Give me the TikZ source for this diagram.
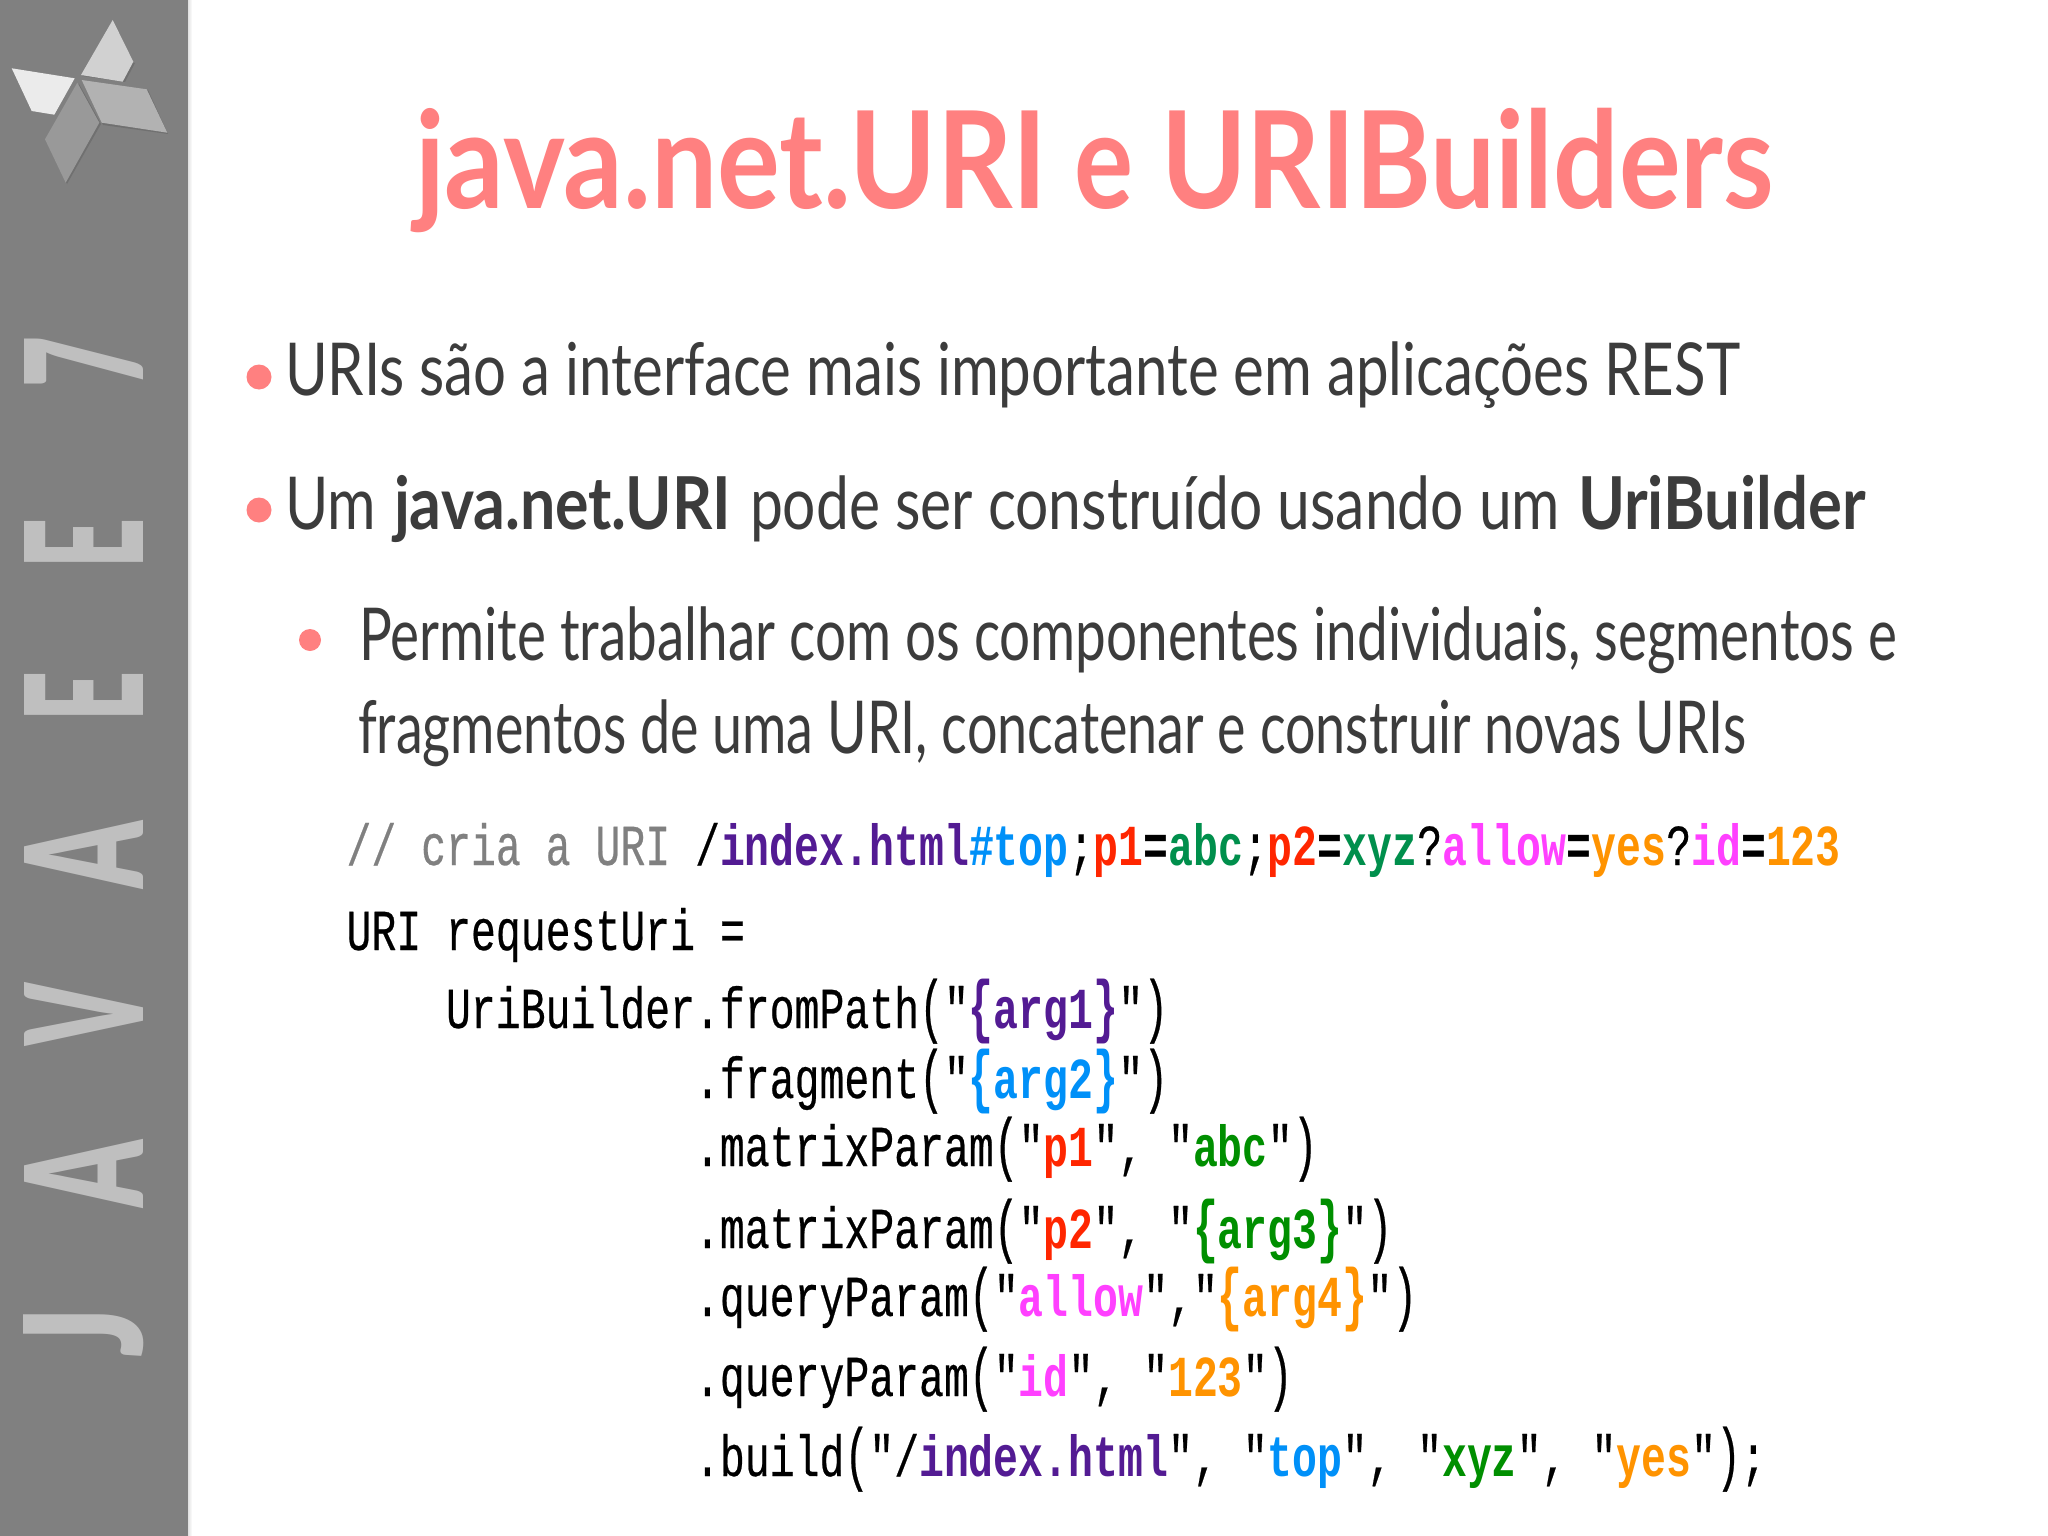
\documentclass[tikz,border=0pt]{standalone}
\usepackage{fontspec}
\usepackage{graphicx}
\setmainfont{Lato}
\newfontfamily\codef[FakeStretch=0.7155,FakeBold=0.4,BoldFeatures={FakeBold=0}]{Liberation Mono}
\newfontfamily\sidef{Lato Black}
\definecolor{sidegrey}{HTML}{808080}
\definecolor{sideletter}{HTML}{BFBFBF}
\definecolor{titlec}{HTML}{FF8080}
\definecolor{bodyc}{HTML}{3C3C3C}
\definecolor{bulletc}{HTML}{FF8080}
\definecolor{cpurple}{HTML}{531B93}
\definecolor{cblue}{HTML}{0090F8}
\definecolor{cred}{HTML}{FF2600}
\definecolor{cgreen}{HTML}{008F4C}
\definecolor{cgreenb}{HTML}{008F00}
\definecolor{cmag}{HTML}{FF40FF}
\definecolor{corange}{HTML}{FF9300}
\definecolor{ccomment}{HTML}{808080}
\newcommand\fitx[2]{\resizebox{#1pt}{\height}{#2}}
\newcommand\tall[1]{\raisebox{-0.02em}{\scalebox{1}[1.2]{#1}}}
\newcommand\lpr{\tall{(}}
\newcommand\rpr{\tall{)}}
\newcommand\lbr{\tall{\{}}
\newcommand\rbr{\tall{\}}}
\newcommand\kp[1]{{\bfseries\color{cpurple}#1}}
\newcommand\kb[1]{{\bfseries\color{cblue}#1}}
\newcommand\kr[1]{{\bfseries\color{cred}#1}}
\newcommand\kg[1]{{\bfseries\color{cgreen}#1}}
\newcommand\kG[1]{{\bfseries\color{cgreenb}#1}}
\newcommand\km[1]{{\bfseries\color{cmag}#1}}
\newcommand\ko[1]{{\bfseries\color{corange}#1}}
\newcommand\kk[1]{{\bfseries #1}}
\tikzset{
  sideletterstyle/.style={inner sep=0,outer sep=0,rotate=90,text=sideletter,font=\fontsize{165}{165}\selectfont\sidef},
  titlestyle/.style={anchor=base west,inner sep=0,outer sep=0,text=titlec,font=\fontsize{135}{135}\selectfont\bfseries},
  bodystyle/.style={anchor=base west,inner sep=0,outer sep=0,text=bodyc,font=\fontsize{73}{73}\selectfont},
  codestyle/.style={anchor=base west,inner sep=0,outer sep=0,text=black,font=\fontsize{58}{58}\selectfont\codef\frenchspacing},
  bulletstyle/.style={circle,fill=bulletc,draw=none,minimum size=25pt,inner sep=0},
  sbulletstyle/.style={circle,fill=bulletc,draw=none,minimum size=22pt,inner sep=0},
}
\begin{document}
\begin{tikzpicture}[x=1pt,y=-1pt]
\useasboundingbox (0,0) rectangle (2048,1536);
\fill[white] (0,0) rectangle (2048,1536);
\shade[left color=black!12,right color=white] (188,0) rectangle (192,1536);
\fill[sidegrey] (0,0) rectangle (188,1536);
% logo
\fill[black!56] (114,63) -- (135,63) -- (125,82) -- (82,76) -- cycle;
\fill[black!56] (83,81) -- (148,90) -- (168,134) -- (103,125) -- cycle;
\fill[black!56] (79,84) -- (101,124) -- (67,184) -- (46,140) -- cycle;
\fill[black!18] (112.7,20) -- (133.3,61.7) -- (122.7,81.7) -- (81,75) -- cycle;
\fill[black!8] (11.7,68.3) -- (74.7,78.3) -- (54.3,114.7) -- (31.7,111) -- cycle;
\fill[black!30] (81.7,80) -- (146.7,89.3) -- (167.3,132.7) -- (101.7,122.7) -- cycle;
\fill[black!40] (77.3,82.7) -- (99.3,122.7) -- (65.7,182.7) -- (45,139.3) -- cycle;
% side title
\node[sideletterstyle] (l7) at (83.5,361.5) {\resizebox{51pt}{119pt}{7}};
\node[sideletterstyle] (le2) at (83.5,543) {\resizebox{50pt}{119pt}{E}};
\node[sideletterstyle] (le1) at (83.5,696) {\resizebox{50pt}{119pt}{E}};
\node[sideletterstyle] (la2) at (83.5,854.5) {\resizebox{67pt}{119pt}{A}};
\node[sideletterstyle] (lv) at (83.5,1014) {\resizebox{62pt}{119pt}{V}};
\node[sideletterstyle] (la1) at (83.5,1173.5) {\resizebox{67pt}{119pt}{A}};
\node[sideletterstyle] (lj) at (84,1332) {\resizebox{50pt}{119pt}{J}};
% title
\node[titlestyle] (title) at (415,208) {\fitx{632}{java.net.URI}\hspace{27pt}\fitx{59}{e}\hspace{28pt}\fitx{613}{URIBuilders}};
% body
\node[bulletstyle] (b1) at (259,377) {};
\node[bodystyle] (t1) at (285,395.5) {\fitx{1455}{URIs são a interface mais importante em aplicações REST}};
\node[bulletstyle] (b2) at (259,510) {};
\node[bodystyle] (t2) at (285,529.5) {\fitx{91}{Um}\hspace{18pt}\fitx{337}{\bfseries java.net.URI}\hspace{19pt}\fitx{810}{pode ser construído usando um}\hspace{18pt}\fitx{288}{\bfseries UriBuilder}};
\node[sbulletstyle] (b3) at (310,640) {};
\node[bodystyle] (t3) at (359,660) {\fitx{1538}{Permite trabalhar com os componentes individuais, segmentos e}};
\node[bodystyle] (t4) at (358,753) {\fitx{1388}{fragmentos de uma URI, concatenar e construir novas URIs}};
% code
\node[codestyle] (c1) at (346.5,865) {{\color{ccomment}// cria a URI }/\kp{index.html}\kb{\#top};\kr{p1}\kk{=}\kg{abc};\kr{p2}\kk{=}\kg{xyz}?\km{allow}\kk{=}\ko{yes}?\km{id}\kk{=}\ko{123}};
\node[codestyle] (c2) at (346.5,950) {URI requestUri =};
\node[codestyle] (c3) at (446,1028) {UriBuilder.fromPath\lpr"\kp{\lbr arg1\rbr}"\rpr};
\node[codestyle] (c4) at (695,1098) {.fragment\lpr"\kb{\lbr arg2\rbr}"\rpr};
\node[codestyle] (c5) at (695,1166) {.matrixParam\lpr"\kr{p1}", "\kG{abc}"\rpr};
\node[codestyle] (c6) at (695,1248) {.matrixParam\lpr"\kr{p2}", "\kG{\lbr arg3\rbr}"\rpr};
\node[codestyle] (c7) at (695,1316) {.queryParam\lpr"\km{allow}","\ko{\lbr arg4\rbr}"\rpr};
\node[codestyle] (c8) at (695,1396) {.queryParam\lpr"\km{id}", "\ko{123}"\rpr};
\node[codestyle] (c9) at (695,1476) {.build\lpr"/\kp{index.html}", "\kb{top}", "\kG{xyz}", "\ko{yes}"\rpr;};
\end{tikzpicture}
\end{document}
